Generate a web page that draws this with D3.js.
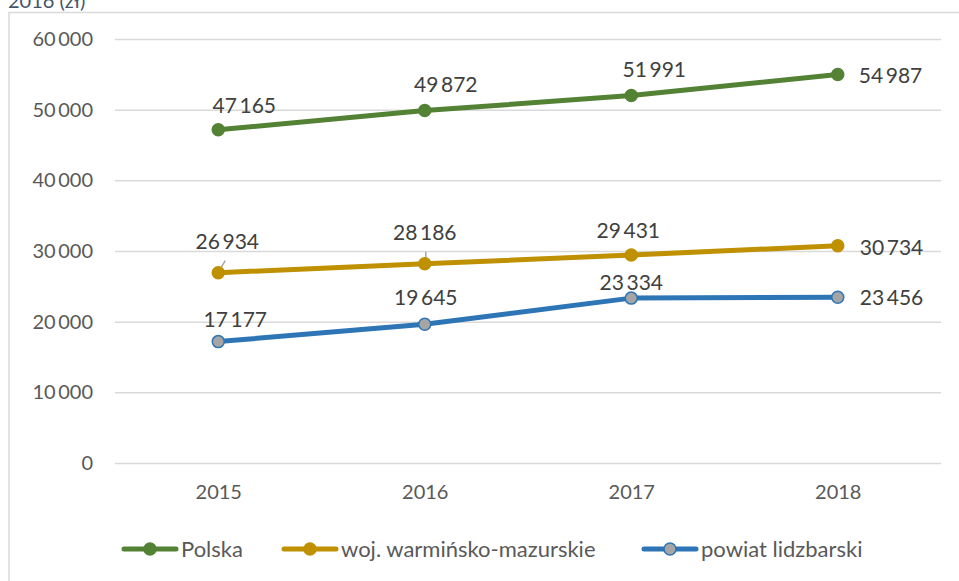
<!DOCTYPE html>
<html>
<head>
<meta charset="utf-8">
<script src="https://cdn.jsdelivr.net/npm/d3@7"></script>
<style>
  body { margin: 0; background: #fff; }
  text { font-family: Lato, 'Open Sans', sans-serif; }
</style>
</head>
<body>
<div class="chart"></div>
<script>
const svgWidth = 959;
const svgHeight = 581;

// data
const years = ['2015', '2016', '2017', '2018'];
const polska = [47165, 49872, 51991, 54987];
const warminsko = [26934, 28186, 29431, 30734];
const lidzbarski = [17177, 19645, 23334, 23456];
const seriesNames = ['Polska', 'woj. warmińsko-mazurskie', 'powiat lidzbarski'];
const yTicks = [0, 10000, 20000, 30000, 40000, 50000, 60000];

// label placement (dx, dy from the point) – Excel labels were dragged by hand
const labelOffsets = [
  [[26, -17], [21, -19], [23, -19], [21, 9]],
  [[9, -24], [0, -24], [-3, -17], [22, 9]],
  [[17, -15], [1, -19], [0, -8], [22, 8]]
];

const series = [
  { name: seriesNames[0], values: polska, color: '#548235', fill: '#548235' },
  { name: seriesNames[1], values: warminsko, color: '#bf9000', fill: '#bf9000' },
  { name: seriesNames[2], values: lidzbarski, color: '#2e75b6', fill: '#a5a5a5' }
];

const plot = { left: 115, right: 941, top: 39, bottom: 463 };

// polish thousands: "47 165"
const fmt = v => d3.format(',')(v).replace(/,/g, '\u2009');

const svg = d3.select('.chart')
  .append('svg')
  .attr('width', svgWidth)
  .attr('height', svgHeight);

// frame of the chart area (cut off by the screenshot)
svg.append('rect')
  .attr('x', 9)
  .attr('y', 12.5)
  .attr('width', 1000)
  .attr('height', 700)
  .attr('fill', 'none')
  .attr('stroke', '#d9d9d9')
  .attr('stroke-width', 1.5);

// title, mostly cropped away in the original too
svg.append('text')
  .attr('x', 8)
  .attr('y', 8)
  .attr('fill', '#44546a')
  .attr('font-size', 20)
  .text('2016 (zł)');

const x = d3.scalePoint()
  .domain(years)
  .range([plot.left, plot.right])
  .padding(0.5);

const y = d3.scaleLinear()
  .domain([0, 60000])
  .range([plot.bottom, plot.top]);

// gridlines + y labels
const yAxis = d3.axisLeft(y)
  .tickValues(yTicks)
  .tickSize(-(plot.right - plot.left))
  .tickPadding(22)
  .tickFormat(fmt);

svg.append('g')
  .attr('transform', `translate(${plot.left}, 0)`)
  .call(yAxis)
  .call(g => g.select('.domain').remove())
  .call(g => g.selectAll('line').attr('stroke', '#d9d9d9').attr('stroke-width', 1.5))
  .call(g => g.selectAll('text')
    .attr('fill', '#595959')
    .attr('font-size', 20)
    .attr('font-family', 'Lato, sans-serif'));

// x labels
const xAxis = d3.axisBottom(x).tickSize(0).tickPadding(22);
svg.append('g')
  .attr('transform', `translate(0, ${plot.bottom})`)
  .call(xAxis)
  .call(g => g.select('.domain').remove())
  .call(g => g.selectAll('text')
    .attr('fill', '#595959')
    .attr('font-size', 20)
    .attr('font-family', 'Lato, sans-serif'));

const line = d3.line()
  .x((d, i) => x(years[i]))
  .y(d => y(d));

// leader lines of the two dragged labels
const leaders = svg.append('g')
  .attr('stroke', '#a6a6a6')
  .attr('stroke-width', 1.5);
leaders.append('line')
  .attr('x1', x(years[0]) + 1).attr('y1', y(warminsko[0]) - 2)
  .attr('x2', x(years[0]) + 7).attr('y2', y(warminsko[0]) - 12);
leaders.append('line')
  .attr('x1', x(years[1]) + 1).attr('y1', y(warminsko[1]) - 3)
  .attr('x2', x(years[1]) + 1).attr('y2', y(warminsko[1]) - 12);

series.forEach((s, si) => {
  const g = svg.append('g');

  g.append('path')
    .datum(s.values)
    .attr('d', line)
    .attr('fill', 'none')
    .attr('stroke', s.color)
    .attr('stroke-width', 5)
    .attr('stroke-linejoin', 'round')
    .attr('stroke-linecap', 'round');

  g.selectAll('circle')
    .data(s.values)
    .enter()
    .append('circle')
    .attr('cx', (d, i) => x(years[i]))
    .attr('cy', d => y(d))
    .attr('r', 6)
    .attr('fill', s.fill)
    .attr('stroke', s.color)
    .attr('stroke-width', 1.5);

  g.selectAll('text')
    .data(s.values)
    .enter()
    .append('text')
    .attr('x', (d, i) => x(years[i]) + labelOffsets[si][i][0])
    .attr('y', (d, i) => y(d) + labelOffsets[si][i][1])
    .attr('text-anchor', (d, i) => i === years.length - 1 ? 'start' : 'middle')
    .attr('fill', '#404040')
    .attr('font-size', 21)
    .text(d => fmt(d));
});

// legend
const legendX = [122, 282, 642];
const legend = svg.append('g').attr('transform', 'translate(0, 549)');
series.forEach((s, i) => {
  const item = legend.append('g').attr('transform', `translate(${legendX[i]}, 0)`);
  item.append('line')
    .attr('x1', 2).attr('x2', 54)
    .attr('stroke', s.color)
    .attr('stroke-width', 5)
    .attr('stroke-linecap', 'round');
  item.append('circle')
    .attr('cx', 28)
    .attr('r', 6)
    .attr('fill', s.fill)
    .attr('stroke', s.color)
    .attr('stroke-width', 1.5);
  item.append('text')
    .attr('x', 59)
    .attr('dy', '0.35em')
    .attr('fill', '#595959')
    .attr('font-size', 22)
    .text(s.name);
});
</script>
</body>
</html>
